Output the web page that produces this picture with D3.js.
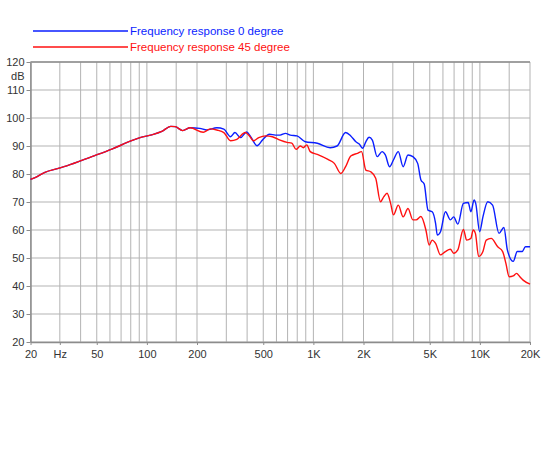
<!DOCTYPE html>
<html>
<head>
<meta charset="utf-8">
<script src="https://cdn.jsdelivr.net/npm/d3@7"></script>
<style>
  body { margin: 0; background: #fff; }
  text { font-family: "Liberation Sans", Arial, Helvetica, sans-serif; }
</style>
</head>
<body>
<script>
// frequency response
const lowFreq = [20, 21.3, 24.4, 29.4, 33, 46.7, 61.6, 81, 91, 107, 123, 139, 148, 164, 182];
const lowDb   = [78.1, 78.7, 80.6, 82.0, 82.9, 86.2, 88.9, 91.9, 93.0, 94.0, 95.2, 97.0, 96.9, 95.5, 96.5];

const freq0 = [208, 229, 263, 290, 318, 338, 365, 397, 420, 459, 494, 545, 591, 631, 680, 727, 797, 894, 1056, 1261, 1387, 1562, 1677, 1800, 1885, 1974, 2065, 2160, 2260, 2416, 2587, 2705, 2868, 3026, 3236, 3460, 3700, 3960, 4230, 4426, 4630, 4880, 5170, 5420, 5550, 5800, 6210, 6650, 6960, 7370, 7960, 8510, 8830, 9230, 9440, 9970, 10430, 11150, 11920, 13030, 13940, 14620, 15860, 16770, 17930, 18770, 20000];
const db0   = [96.3, 95.7, 96.5, 96.0, 93.3, 94.8, 93.0, 95.0, 93.3, 90.1, 92.1, 94.2, 93.9, 93.9, 94.5, 93.9, 93.6, 91.5, 91.0, 89.4, 90.0, 94.8, 93.6, 91.5, 90.7, 89.2, 91.5, 93.1, 92.1, 86.2, 88.0, 86.8, 82.6, 85.0, 88.0, 82.6, 86.8, 86.2, 83.8, 77.9, 76.4, 67.1, 66.5, 62.4, 58.2, 59.4, 66.5, 63.6, 64.7, 62.1, 69.5, 69.8, 66.5, 70.7, 69.5, 59.4, 64.7, 70.1, 68.9, 58.8, 60.9, 52.9, 48.8, 52.3, 52.3, 54.0, 54.0];

const freq45 = [218, 240, 263, 290, 318, 347, 390, 413, 437, 470, 517, 567, 631, 695, 742, 787, 835, 870, 913, 957, 1056, 1223, 1336, 1462, 1562, 1677, 1840, 1947, 2065, 2210, 2367, 2530, 2650, 2770, 2910, 3026, 3236, 3460, 3700, 3960, 4140, 4426, 4740, 4960, 5170, 5420, 5800, 6210, 6650, 6960, 7370, 7960, 8330, 8830, 9120, 9400, 9830, 10430, 10920, 11690, 12800, 13700, 14330, 15000, 15860, 16600, 17380, 18180, 20000];
const db45   = [94.9, 96.1, 95.7, 94.8, 91.9, 92.4, 94.8, 93.6, 91.9, 93.0, 93.6, 93.3, 92.1, 91.3, 91.0, 88.8, 90.0, 89.4, 90.4, 88.0, 87.0, 85.2, 83.8, 80.2, 82.6, 86.4, 87.4, 88.0, 81.4, 80.8, 78.5, 70.1, 71.9, 73.1, 69.5, 65.4, 68.9, 64.7, 67.7, 63.6, 63.6, 64.8, 60.0, 54.6, 56.4, 55.2, 51.1, 52.3, 53.1, 51.7, 52.9, 60.2, 56.4, 57.0, 60.0, 58.8, 50.5, 52.3, 56.4, 57.0, 54.0, 52.3, 48.1, 43.3, 43.6, 44.5, 43.3, 42.1, 40.7];

const gridFreqs = [20, 30, 40, 50, 60, 70, 80, 90, 100, 150, 200, 300, 400, 500, 600, 700, 800, 900,
  1000, 1500, 2000, 3000, 4000, 5000, 6000, 7000, 8000, 9000, 10000, 15000, 20000];
const xTickVals = [20, 30, 50, 100, 200, 500, 1000, 2000, 5000, 10000, 20000];
const xTickLabels = ["20", "Hz", "50", "100", "200", "500", "1K", "2K", "5K", "10K", "20K"];
const yTicks = [20, 30, 40, 50, 60, 70, 80, 90, 100, 110, 120];

const seriesNames = ["Frequency response 0 degree", "Frequency response 45 degree"];
const seriesColors = ["#0a1eff", "#ff1010"];

var width = 550, height = 450;
const margin = {left: 30.5, top: 62, right: 20, bottom: 108};

var svg = d3.select("body").append("svg")
    .attr("width", width)
    .attr("height", height);

var x = d3.scaleLog().domain([20, 20000]).range([margin.left, width - margin.right]);
var y = d3.scaleLinear().domain([20, 120]).range([height - margin.bottom, margin.top]);

// grid
svg.append("g").selectAll("line")
  .data(gridFreqs)
  .join("line")
    .attr("x1", d => x(d)).attr("x2", d => x(d))
    .attr("y1", y(20)).attr("y2", y(120))
    .attr("stroke", "#b3b3b3").attr("stroke-width", 1);

svg.append("g").selectAll("line")
  .data(yTicks)
  .join("line")
    .attr("x1", x(20)).attr("x2", x(20000))
    .attr("y1", d => y(d)).attr("y2", d => y(d))
    .attr("stroke", "#b3b3b3").attr("stroke-width", 1);

// axes
var xAxis = d3.axisBottom(x).tickValues(xTickVals)
    .tickFormat((d, i) => xTickLabels[i]).tickSize(3).tickSizeOuter(0);
var yAxis = d3.axisLeft(y).tickValues(yTicks).tickSize(4).tickSizeOuter(0).tickPadding(2);

var gx = svg.append("g").attr("transform", "translate(0," + y(20) + ")").call(xAxis);
var gy = svg.append("g").attr("transform", "translate(" + x(20) + ",0)").call(yAxis);

[gx, gy].forEach(g => {
  g.select(".domain").attr("stroke", "#8c8c8c").attr("stroke-width", 1.5);
  g.selectAll(".tick line").attr("stroke", "#8c8c8c");
  g.selectAll(".tick text").attr("fill", "#333").attr("font-size", 11)
    .attr("font-family", "'Liberation Sans', Arial, sans-serif");
});
gx.selectAll(".tick text").attr("dy", "0.95em");

// top border
svg.append("line")
    .attr("x1", x(20)).attr("x2", x(20000))
    .attr("y1", y(120)).attr("y2", y(120))
    .attr("stroke", "#8c8c8c").attr("stroke-width", 1.5);

svg.append("text")
    .attr("x", x(20) - 6).attr("y", y(115))
    .attr("dy", "0.35em")
    .attr("text-anchor", "end")
    .attr("font-size", 11).attr("fill", "#333")
    .text("dB");

// curves
var line = d3.line()
    .x(d => x(d[0]))
    .y(d => y(d[1]))
    .curve(d3.curveMonotoneX);

var low = lowFreq.map((f, i) => [f, lowDb[i]]);
var curve0 = low.concat(freq0.map((f, i) => [f, db0[i]]));
var curve45 = low.concat(freq45.map((f, i) => [f, db45[i]]));

// blue first, red on top like the original
svg.append("path")
    .datum(curve0)
    .attr("fill", "none")
    .attr("stroke", seriesColors[0])
    .attr("stroke-width", 1.4)
    .attr("d", line);

svg.append("path")
    .datum(curve45)
    .attr("fill", "none")
    .attr("stroke", seriesColors[1])
    .attr("stroke-width", 1.4)
    .attr("d", line);

// legend
var legend = svg.append("g").selectAll("g")
  .data(seriesNames)
  .join("g")
    .attr("transform", (d, i) => "translate(33," + (31 + i * 16) + ")");

legend.append("line")
    .attr("x1", 0).attr("x2", 95)
    .attr("stroke", (d, i) => seriesColors[i])
    .attr("stroke-width", 1.5);

legend.append("text")
    .attr("x", 97).attr("dy", "0.35em")
    .attr("font-size", 11.5)
    .attr("fill", (d, i) => seriesColors[i])
    .text(d => d);
</script>
</body>
</html>
